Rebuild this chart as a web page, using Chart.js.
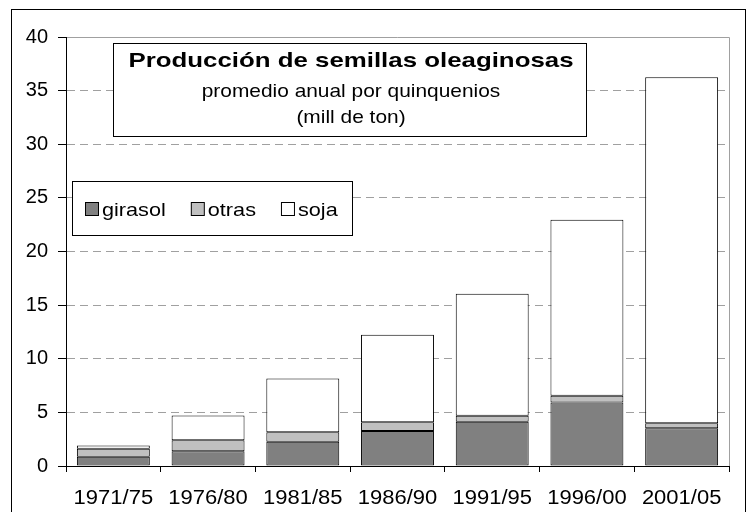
<!DOCTYPE html>
<html>
<head>
<meta charset="utf-8">
<script src="https://cdn.jsdelivr.net/npm/chart.js@4.4.1/dist/chart.umd.min.js"></script>
<style>
  html, body { margin: 0; padding: 0; background: #fff; }
  #chart { display: block; }
</style>
</head>
<body>
<canvas id="chart" width="749" height="512"></canvas>
<script>
// Producción de semillas oleaginosas, promedio anual por quinquenio (mill de ton)
var periods = ['1971/75', '1976/80', '1981/85', '1986/90', '1991/95', '1996/00', '2001/05'];
var girasol = [0.87, 1.37, 2.27, 3.26, 4.13, 5.93, 3.51];
var otras   = [0.74, 1.02, 0.87, 0.81, 0.56, 0.62, 0.47];
var soja    = [0.29, 2.33, 5.03, 8.17, 11.37, 16.40, 32.27];
var yTicks  = [0, 5, 10, 15, 20, 25, 30, 35, 40];

var titleLines = ['Producción de semillas oleaginosas', 'promedio anual por quinquenios', '(mill de ton)'];

var FONT = 'Arial, "Liberation Sans", sans-serif';

// draw text squeezed/stretched horizontally around an anchor
function stretchText(ctx, text, x, y, sx, align) {
    ctx.save();
    ctx.translate(x, y);
    ctx.scale(sx, 1);
    ctx.textAlign = align;
    ctx.fillText(text, 0, 0);
    ctx.restore();
}

// outer frame + plot area edge lines
var framePlugin = {
    id: 'frame',
    beforeDraw: function(chart) {
        var ctx = chart.ctx, a = chart.chartArea;
        ctx.save();
        ctx.fillStyle = '#fff';
        ctx.fillRect(0, 0, chart.width, chart.height);
        ctx.strokeStyle = '#000';
        ctx.lineWidth = 1;
        ctx.strokeRect(11.5, 9.5, 734, 600);
        ctx.strokeStyle = '#a0a0a0';
        ctx.beginPath();
        ctx.moveTo(a.left, a.top + 0.5);
        ctx.lineTo(a.right + 0.5, a.top + 0.5);
        ctx.lineTo(a.right + 0.5, a.bottom);
        ctx.stroke();
        ctx.restore();
    }
};

// category labels under the x axis, slightly widened like the rest of the text
var xLabelsPlugin = {
    id: 'xLabels',
    afterDraw: function(chart) {
        var ctx = chart.ctx, sx = chart.scales.x;
        ctx.save();
        ctx.fillStyle = '#000';
        ctx.font = '20px ' + FONT;
        ctx.textBaseline = 'alphabetic';
        chart.data.labels.forEach(function(lbl, i) {
            stretchText(ctx, lbl, sx.getPixelForTick(i), 504, 1.1, 'center');
        });
        ctx.restore();
    }
};

// boxed title and legend drawn inside the plot area
var boxesPlugin = {
    id: 'boxes',
    afterDatasetsDraw: function(chart) {
        var ctx = chart.ctx;
        ctx.save();
        ctx.lineWidth = 1;
        ctx.strokeStyle = '#000';
        ctx.fillStyle = '#fff';

        // title box
        ctx.fillRect(113.5, 43.5, 473, 93);
        ctx.strokeRect(113.5, 43.5, 473, 93);
        var cx = 351;
        ctx.fillStyle = '#000';
        ctx.textBaseline = 'alphabetic';
        ctx.font = 'bold 21px ' + FONT;
        stretchText(ctx, titleLines[0], cx, 67, 1.23, 'center');
        ctx.font = '19px ' + FONT;
        stretchText(ctx, titleLines[1], cx, 97, 1.1, 'center');
        stretchText(ctx, titleLines[2], cx, 123, 1.1, 'center');

        // legend box
        ctx.fillStyle = '#fff';
        ctx.fillRect(72.5, 181.5, 280, 54);
        ctx.strokeRect(72.5, 181.5, 280, 54);
        ctx.font = '19px ' + FONT;
        var x = 85;
        chart.data.datasets.forEach(function(ds) {
            ctx.fillStyle = ds.backgroundColor;
            ctx.fillRect(x + 0.5, 202.5, 13, 13);
            ctx.strokeStyle = '#000';
            ctx.strokeRect(x + 0.5, 202.5, 13, 13);
            ctx.fillStyle = '#000';
            var w = ctx.measureText(ds.label).width * 1.14;
            stretchText(ctx, ds.label, x + 17, 216, 1.14, 'left');
            x += 17 + w + 25;
        });
        ctx.restore();
    }
};

function barSet(label, data, color) {
    return {
        label: label,
        data: data,
        backgroundColor: color,
        borderColor: '#000',
        borderWidth: 1,
        borderSkipped: false,
        barPercentage: 0.77,
        categoryPercentage: 1.0
    };
}

var chart = new Chart(document.getElementById('chart').getContext('2d'), {
    type: 'bar',
    data: {
        labels: periods,
        datasets: [
            barSet('girasol', girasol, '#808080'),
            barSet('otras', otras, '#c0c0c0'),
            barSet('soja', soja, '#ffffff')
        ]
    },
    options: {
        responsive: false,
        animation: false,
        layout: { padding: { left: 0, right: 20, top: 37, bottom: 0 } },
        plugins: {
            legend: { display: false },
            title: { display: false },
            tooltip: { enabled: false }
        },
        scales: {
            x: {
                stacked: true,
                offset: true,
                grid: {
                    offset: true,
                    drawOnChartArea: false,
                    drawTicks: true,
                    tickLength: 6,
                    tickColor: '#000'
                },
                border: { color: '#000', width: 1 },
                ticks: { display: false },
                afterFit: function(scale) { scale.height = 46; }
            },
            y: {
                stacked: true,
                min: yTicks[0],
                max: yTicks[yTicks.length - 1],
                afterBuildTicks: function(scale) {
                    scale.ticks = yTicks.map(function(v) { return { value: v }; });
                },
                grid: {
                    color: function(c) {
                        var v = c.tick ? c.tick.value : null;
                        return (v === yTicks[0] || v === yTicks[yTicks.length - 1]) ? 'rgba(0,0,0,0)' : '#a0a0a0';
                    },
                    tickLength: 8,
                    tickColor: '#000'
                },
                border: { color: '#000', width: 1, dash: [8, 5] },
                ticks: {
                    color: '#000',
                    font: { family: FONT, size: 20 },
                    padding: 10
                },
                afterFit: function(scale) { scale.width = 66; }
            }
        }
    },
    plugins: [framePlugin, boxesPlugin, xLabelsPlugin]
});
</script>
</body>
</html>
